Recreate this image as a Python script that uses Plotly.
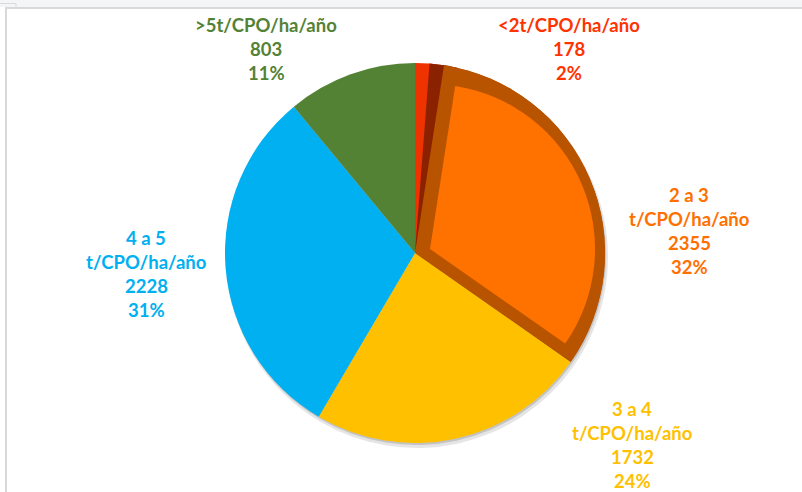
import plotly.graph_objects as go

# ---- data ----
categories = ["<2t/CPO/ha/año", "2 a 3 t/CPO/ha/año", "3 a 4 t/CPO/ha/año",
              "4 a 5 t/CPO/ha/año", ">5t/CPO/ha/año"]
label_lines = [["<2t/CPO/ha/año"], ["2 a 3", "t/CPO/ha/año"], ["3 a 4", "t/CPO/ha/año"],
               ["4 a 5", "t/CPO/ha/año"], [">5t/CPO/ha/año"]]
values = [178, 2355, 1732, 2228, 803]

# ---- style ----
W, H = 802, 492
colors = ["#EE3200", "#FF7200", "#FFC000", "#00B0F0", "#548235"]
label_colors = ["#FF3300", "#FF7000", "#FFC000", "#00B0F0", "#548235"]
band_color = "#B85300"
shadow_wedge = "#8A2200"
label_pos = [(569, 25), (689, 195), (632, 409), (146, 238), (266, 25)]  # center x, first line y
line_gap = 24
CX, CY, R = 415, 253, 190
FACE_CX, FACE_CY, FACE_R = 430, 249, 165
FONT = "Lato"
FONT_SIZE = 18.5


def dom(cx, cy, r):
    return dict(x=[(cx - r) / W, (cx + r) / W], y=[1 - (cy + r) / H, 1 - (cy - r) / H])


total = sum(values)
n = len(values)
transparent = "rgba(0,0,0,0)"
common = dict(labels=categories, values=values, sort=False, direction="clockwise",
              textinfo="none", hoverinfo="skip", showlegend=False)


def only(idx, color):
    return [color if j == idx else transparent for j in range(n)]


fig = go.Figure()
# soft shadow
fig.add_trace(go.Pie(**common, domain=dom(CX + 2, CY + 4, R + 1),
                     marker=dict(colors=["rgba(0,0,0,0.10)"] * n, line=dict(width=0))))
fig.add_trace(go.Pie(**common, domain=dom(CX + 1, CY + 2, R),
                     marker=dict(colors=["rgba(0,0,0,0.15)"] * n, line=dict(width=0))))
# base pie
base_colors = list(colors)
base_colors[1] = band_color
fig.add_trace(go.Pie(**common, domain=dom(CX, CY, R),
                     marker=dict(colors=base_colors, line=dict(width=0))))
# dark wedge (shadow of the raised slice on the small slice)
shift = 360 * values[0] / total / 2
fig.add_trace(go.Pie(**common, domain=dom(CX, CY, R), rotation=shift,
                     marker=dict(colors=only(0, shadow_wedge), line=dict(width=0))))
# redraw the raised slice's bevel to clip the wedge spill
fig.add_trace(go.Pie(**common, domain=dom(CX, CY, R),
                     marker=dict(colors=only(1, band_color), line=dict(width=0))))
# raised face of the orange slice
fig.add_trace(go.Pie(**common, domain=dom(FACE_CX, FACE_CY, FACE_R),
                     marker=dict(colors=only(1, colors[1]), line=dict(width=0))))

annotations = []
for i, lines in enumerate(label_lines):
    pct = round(values[i] / total * 100)
    all_lines = [l.replace("<", "&lt;").replace(">", "&gt;") for l in lines] + [str(values[i]), f"{pct}%"]
    x0, y0 = label_pos[i]
    for k, t in enumerate(all_lines):
        annotations.append(dict(
            text=f"<b>{t}</b>", x=x0 / W, y=1 - (y0 + k * line_gap) / H,
            xref="paper", yref="paper", xanchor="center", yanchor="middle",
            showarrow=False, font=dict(family=FONT, size=FONT_SIZE, color=label_colors[i])))

shapes = [
    dict(type="rect", xref="paper", yref="paper", x0=0, x1=1, y0=1 - 7 / H, y1=1,
         fillcolor="#F3F5F6", line=dict(width=0), layer="below"),
    dict(type="line", xref="paper", yref="paper", x0=5 / W, x1=1, y0=1 - 8 / H, y1=1 - 8 / H,
         line=dict(color="#D9D9D9", width=2)),
    dict(type="line", xref="paper", yref="paper", x0=6 / W, x1=6 / W, y0=0, y1=1 - 8 / H,
         line=dict(color="#D9D9D9", width=2)),
    dict(type="line", xref="paper", yref="paper", x0=0, x1=16 / W, y0=1 - 3.5 / H, y1=1 - 3.5 / H,
         line=dict(color="#D9D9D9", width=1)),
    dict(type="line", xref="paper", yref="paper", x0=16 / W, x1=16 / W, y0=1 - 3.5 / H, y1=1 - 8 / H,
         line=dict(color="#D9D9D9", width=1)),
]

fig.update_layout(width=W, height=H, margin=dict(l=0, r=0, t=0, b=0),
                  paper_bgcolor="white", plot_bgcolor="white",
                  annotations=annotations, shapes=shapes)
fig.write_html("out.html", config={"displayModeBar": False},
               post_script="document.body.style.margin='0';document.body.style.overflow='hidden';")
